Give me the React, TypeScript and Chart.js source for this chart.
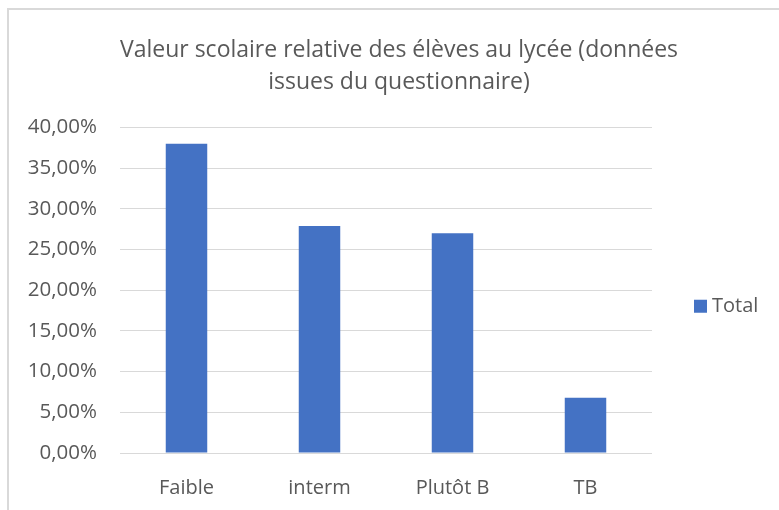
import React, { useEffect, useRef } from "react";
import { Chart, registerables } from "chart.js";

Chart.register(...registerables);

const categories = ["Faible", "interm", "Plutôt B", "TB"];
const totalValues = [38.0, 27.9, 27.0, 6.8];
const seriesLabel = "Total";
const titleLines = ["Valeur scolaire relative des élèves au lycée (données", "issues du questionnaire)"];
const yMin = 0;
const yMax = 40;
const yStep = 5;

const FONT = "'Open Sans', 'Noto Sans', sans-serif";
const TEXT = "#595959";

const sideLegend = {
  id: "sideLegend",
  afterDraw(chart: any) {
    const { ctx, chartArea } = chart;
    const ds = chart.data.datasets[0];
    const x = chartArea.right + 42;
    const yc = (chartArea.top + chartArea.bottom) / 2 + 16;
    ctx.save();
    ctx.fillStyle = ds.backgroundColor;
    ctx.fillRect(x, yc - 6.5, 13, 13);
    ctx.fillStyle = TEXT;
    ctx.font = `20px ${FONT}`;
    ctx.textBaseline = "middle";
    ctx.textAlign = "left";
    ctx.fillText(ds.label, x + 18, yc);
    ctx.restore();
  },
};

export default function App() {
  const ref = useRef<HTMLCanvasElement | null>(null);

  useEffect(() => {
    if (!ref.current) return;
    const chart = new Chart(ref.current, {
      type: "bar",
      data: {
        labels: categories,
        datasets: [
          {
            label: seriesLabel,
            data: totalValues,
            backgroundColor: "#4472C4",
            borderWidth: 0,
            barPercentage: 0.312,
            categoryPercentage: 1,
          },
        ],
      },
      plugins: [sideLegend],
      options: {
        animation: false,
        responsive: false,
        maintainAspectRatio: false,
        layout: { padding: { left: 19, right: 0, top: 0, bottom: 0 } },
        plugins: {
          tooltip: { enabled: false },
          legend: { display: false },
          title: {
            display: true,
            text: titleLines,
            color: TEXT,
            font: { family: FONT, size: 23, weight: "normal", lineHeight: 1.391 },
            padding: { top: 34, bottom: 29.5 },
          },
        },
        scales: {
          x: {
            grid: { display: false },
            border: { display: false },
            ticks: {
              color: TEXT,
              font: { family: FONT, size: 20 },
              padding: 15,
              maxRotation: 0,
            },
            afterFit: (s: any) => {
              s.height = 57;
            },
          },
          y: {
            min: yMin,
            max: yMax,
            grid: { color: "#d9d9d9", lineWidth: 1, drawTicks: false },
            border: { display: false },
            ticks: {
              stepSize: yStep,
              color: TEXT,
              font: { family: FONT, size: 20.5 },
              padding: 23,
              callback: (v: any) => `${Number(v).toFixed(2).replace(".", ",")}%`,
            },
            afterFit: (s: any) => {
              s.width = 101;
            },
          },
          legendSpace: {
            type: "linear",
            position: "right",
            display: true,
            grid: { display: false },
            border: { display: false },
            ticks: { display: false },
            afterFit: (s: any) => {
              s.width = 127;
            },
          },
        },
      },
    });
    return () => chart.destroy();
  }, []);

  return (
    <div style={{ position: "fixed", left: 0, top: 0, width: 779, height: 510, background: "#fff", overflow: "hidden" }}>
      <div
        style={{
          position: "absolute",
          left: 7,
          top: 8,
          width: 900,
          height: 700,
          border: "2px solid #d9d9d9",
          boxSizing: "border-box",
        }}
      />
      <canvas ref={ref} width={779} height={510} style={{ position: "absolute", left: 0, top: 0, width: 779, height: 510 }} />
    </div>
  );
}
